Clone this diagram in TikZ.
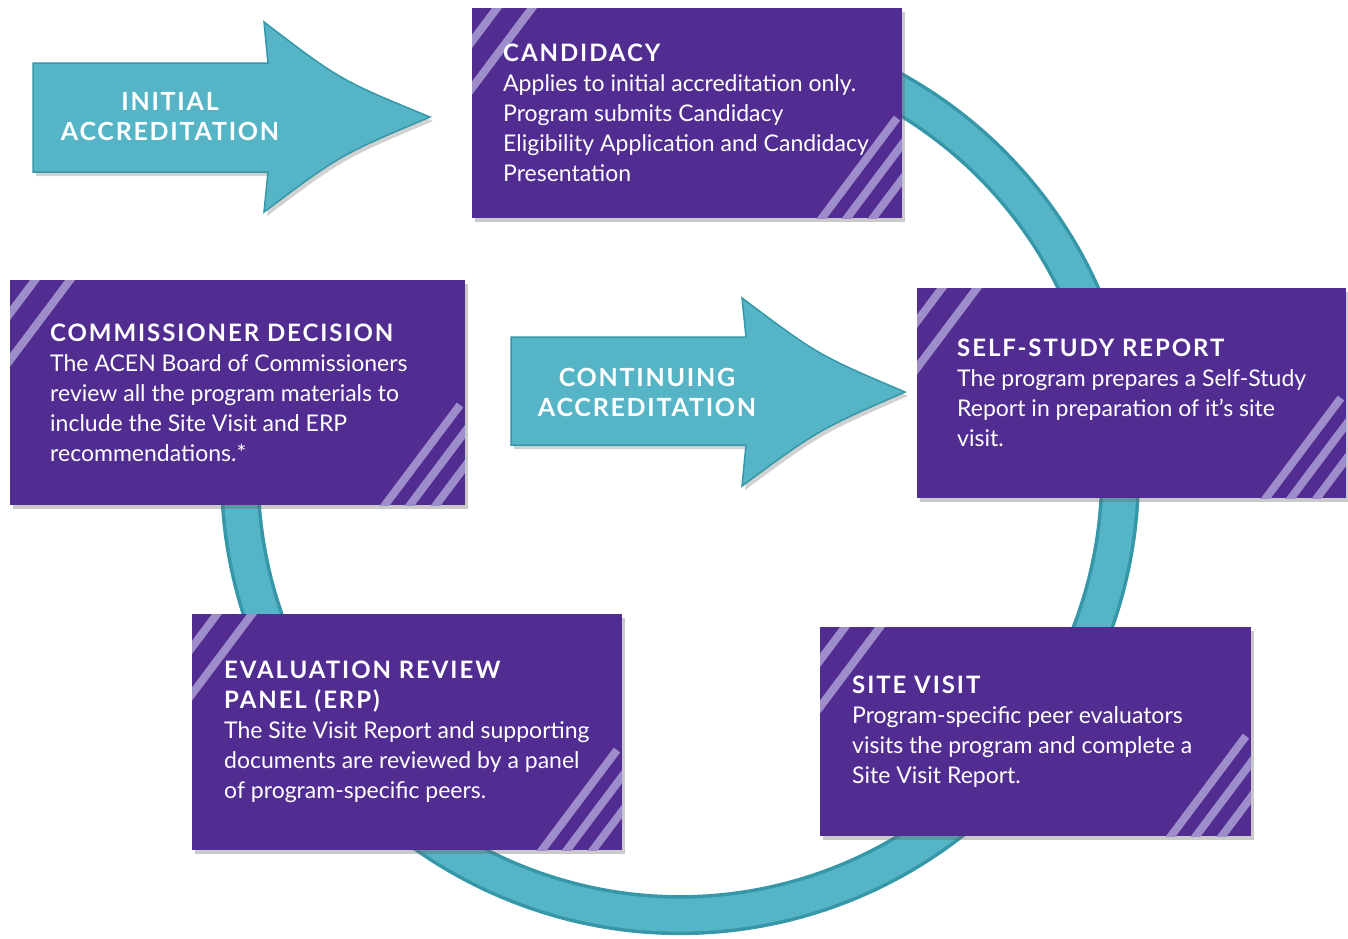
\documentclass[tikz,border=0pt]{standalone}
\usepackage{fontspec}
\setmainfont{Lato}
\usetikzlibrary{positioning,shadows}
\definecolor{acpurple}{HTML}{512D91}
\definecolor{acstripe}{HTML}{9E8DCB}
\definecolor{acteal}{HTML}{55B5C6}
\definecolor{acdark}{HTML}{3597A8}
\newcommand\boxfont{\fontsize{23}{30}\selectfont}
\newcommand\boxtitle[1]{{\fontsize{24}{30}\selectfont\bfseries\addfontfeatures{LetterSpace=8}#1}}
\newcommand\cornerstripes[1]{%
  \begin{scope}
    \clip (#1.north west) rectangle (#1.south east);
    \foreach \o in {25,60}
      \draw[stripe] ([xshift=\o pt]#1.north west) ++(75,-100) -- ++(-150,200);
    \foreach \o in {29,55,80}
      \draw[stripe] ([xshift=-\o pt]#1.south east) ++(-75,100) -- ++(150,-200);
  \end{scope}}

\begin{document}
\begin{tikzpicture}[x=1pt,y=-1pt,
    stepbox/.style={rectangle,fill=acpurple,draw=none,outer sep=0pt,inner sep=0pt,
      drop shadow={shadow xshift=3pt,shadow yshift=-4pt,opacity=0.35,fill=black!60}},
    boxtext/.style={anchor=west,align=left,text=white,font=\boxfont,inner sep=0pt},
    stripe/.style={acstripe,line width=8pt},
    bigarrow/.style={fill=acteal,draw=acdark,line width=1.5pt,
      drop shadow={shadow xshift=3pt,shadow yshift=-4pt,opacity=0.3,fill=black!60}},
    arrowtext/.style={align=center,text=white,
      font=\fontsize{25}{30}\selectfont\bfseries\addfontfeatures{LetterSpace=7}}]
  \useasboundingbox (0,0) rectangle (1348,938);

  % the cycle
  \draw[acdark,line width=40pt] (680pt,-475pt) ++(160:440pt) arc[start angle=160,end angle=450,radius=440pt];
  \draw[acteal,line width=33pt] (680pt,-475pt) ++(160:440pt) arc[start angle=160,end angle=450,radius=440pt];

  % boxes
  \node[stepbox,minimum width=430pt,minimum height=210pt] (cand) at (687,113) {};
  \node[stepbox,minimum width=455pt,minimum height=225pt] (comm) at (237.5,392.5) {};
  \node[stepbox,minimum width=429pt,minimum height=210pt] (self) at (1131.5,393) {};
  \node[stepbox,minimum width=430pt,minimum height=236pt] (erp) at (407,732) {};
  \node[stepbox,minimum width=431pt,minimum height=209pt] (site) at (1035.5,731.5) {};
  \foreach \b in {cand,comm,self,erp,site} \cornerstripes{\b};

  \node[boxtext,right=31pt of cand.west] (candtxt) {\boxtitle{CANDIDACY}\\
    Applies to initial accreditation only.\\
    Program submits Candidacy\\
    Eligibility Application and Candidacy\\
    Presentation};
  \node[boxtext,right=40pt of comm.west] (commtxt) {\boxtitle{COMMISSIONER DECISION}\\
    The ACEN Board of Commissioners\\
    review all the program materials to\\
    include the Site Visit and ERP\\
    recommendations.*};
  \node[boxtext,right=40pt of self.west] (selftxt) {\boxtitle{SELF-STUDY REPORT}\\
    The program prepares a Self-Study\\
    Report in preparation of it's site\\
    visit.};
  \node[boxtext,right=32pt of erp.west] (erptxt) {\boxtitle{EVALUATION REVIEW}\\
    \boxtitle{PANEL (ERP)}\\
    The Site Visit Report and supporting\\
    documents are reviewed by a panel\\
    of program-specific peers.};
  \node[boxtext,right=32pt of site.west] (sitetxt) {\boxtitle{SITE VISIT}\\
    Program-specific peer evaluators\\
    visits the program and complete a\\
    Site Visit Report.};

  % entry arrows
  \path[bigarrow] (33,63) -- (268,63) -- (264,22) .. controls (340,80) .. (430,117)
    .. controls (340,155) .. (264,212) -- (268,172) -- (33,172) -- cycle;
  \node[arrowtext] (init) at (170,117) {INITIAL\\ACCREDITATION};
  \path[bigarrow] (511,337) -- (746,337) -- (742,298) .. controls (818,355) .. (905,392)
    .. controls (818,430) .. (742,486) -- (746,445) -- (511,445) -- cycle;
  \node[arrowtext] (cont) at (647,392) {CONTINUING\\ACCREDITATION};
\end{tikzpicture}
\end{document}
